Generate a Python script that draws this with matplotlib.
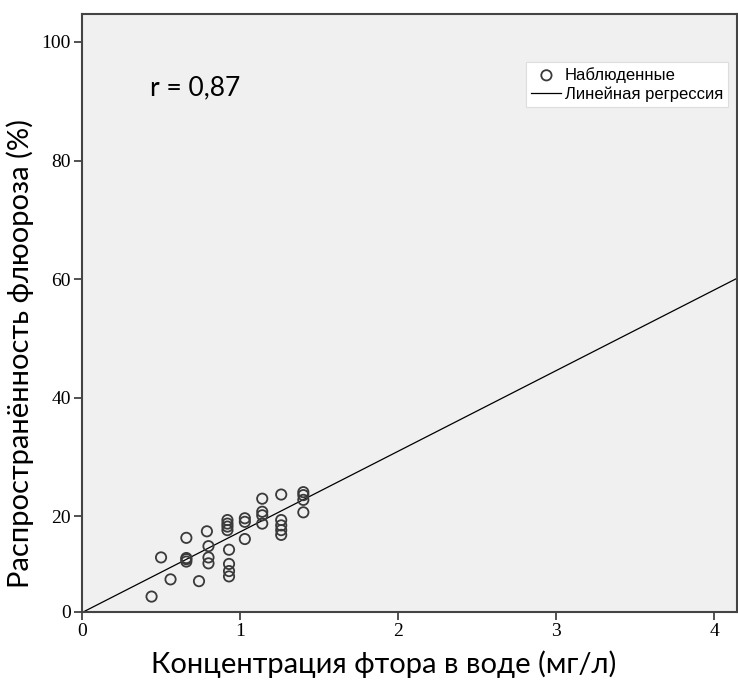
import numpy as np
import matplotlib.pyplot as plt

# observed: fluoride concentration in water (mg/l) vs fluorosis prevalence (%)
conc = [0.44, 0.50, 0.56, 0.66, 0.66, 0.66, 0.66, 0.74, 0.79, 0.80, 0.80, 0.80,
        0.92, 0.92, 0.92, 0.92, 0.93, 0.93, 0.93, 0.93,
        1.03, 1.03, 1.03, 1.14, 1.14, 1.14, 1.14,
        1.26, 1.26, 1.26, 1.26, 1.26, 1.40, 1.40, 1.40, 1.40]
prev = [6.5, 13.1, 9.4, 16.4, 12.4, 12.8, 13.0, 9.1, 17.5, 15.0, 13.1, 12.1,
        19.4, 18.8, 18.3, 17.7, 14.4, 12.0, 10.8, 9.9,
        19.7, 19.1, 16.2, 23.0, 20.8, 20.2, 18.8,
        23.7, 19.4, 18.5, 17.7, 16.9, 24.1, 23.6, 22.8, 20.7]

# fitted line
intercept = 3.8
slope = 13.6
r_text = "r = 0,87"

x_ticks = [0, 1, 2, 3, 4]
y_ticks = [20, 40, 60, 80, 100]
y_floor = 3.9   # bottom of the axis, labelled "0"

fig = plt.figure(figsize=(7.38, 6.83), dpi=100)
ax = fig.add_axes([82 / 738, 1 - 612 / 683, 1 - 82 / 738 - 0.002, (612 - 14) / 683])
ax.set_facecolor('#f0f0f0')

xs = np.array([0, 4.15])
ax.plot(xs, intercept + slope * xs, color='black', lw=0.9, zorder=2)
ax.scatter(conc, prev, s=55, facecolors='none', edgecolors='#3a3a3a', linewidths=1.3,
           zorder=3, label='Наблюденные')
ax.plot([], [], color='black', lw=0.9, label='Линейная регрессия')

ax.set_xlim(0, 4.14)
ax.set_ylim(y_floor, 104.7)
ax.set_xticks(x_ticks)
ax.set_xticklabels([str(t) for t in x_ticks])
ax.set_yticks([y_floor] + y_ticks)
ax.set_yticklabels(['0'] + [str(t) for t in y_ticks])
ax.tick_params(direction='out', length=6, width=1.2, color='#333333', labelsize=14, pad=2)
for lab in ax.get_xticklabels() + ax.get_yticklabels():
    lab.set_family('Liberation Serif')
for sp in ax.spines.values():
    sp.set_color('#444444')
    sp.set_linewidth(1.5)

ax.set_xlabel('Концентрация фтора в воде (мг/л)', fontsize=21, family='Lato')
ax.set_ylabel('Распространённость флюороза (%)', fontsize=21, family='Lato')
ax.xaxis.set_label_coords((384 - 82) / 656, -(650 - 612) / 598)
ax.yaxis.set_label_coords(-(82 - 34) / 656, (612 - 354) / 598)

ax.text(0.43, 91, r_text, fontsize=19, family='Lato')

handles, labels = ax.get_legend_handles_labels()
leg = ax.legend(handles, labels, loc='upper right', bbox_to_anchor=(0.987, 0.92),
                prop={'family': 'Liberation Sans', 'size': 12}, frameon=True, fancybox=False,
                handlelength=1.8, handletextpad=0.2, borderpad=0.3, labelspacing=0.2,
                borderaxespad=0)
leg.get_frame().set_edgecolor('#dddddd')
leg.get_frame().set_linewidth(0.8)
leg.get_frame().set_alpha(1)

fig.savefig('out.png', dpi=100)
